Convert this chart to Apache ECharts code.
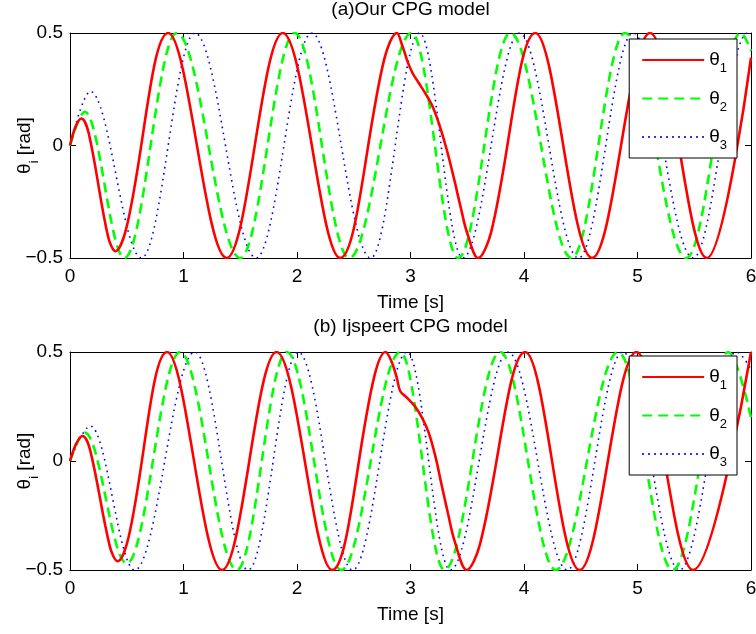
<!DOCTYPE html>
<html><head><meta charset="utf-8">
<script src="https://cdn.jsdelivr.net/npm/echarts@6/dist/echarts.min.js"></script>
<style>html,body{margin:0;padding:0;background:#fff}#c{width:756px;height:634px}</style>
</head><body><div id="c"></div>
<script>
// ---- data (time [s], angle [rad]) ----
const seriesNames = ['θ1', 'θ2', 'θ3'];
const panelTitles = ['(a)Our CPG model', '(b) Ijspeert CPG model'];
const xTickValues = [0, 1, 2, 3, 4, 5, 6];
const yTickValues = [-0.5, 0, 0.5];

// (a) Our CPG model
const ourTheta1 = [[0,0],[0.05,0.085],[0.10,0.12],[0.166,0.052],[0.334,-0.402],[0.40,-0.47],[0.50,-0.36],[0.865,0.5],[1.38,-0.5],[1.875,0.5],[2.38,-0.5],[2.77,0.386],[2.88,0.5],[2.93,0.44],[2.98,0.365],[3.02,0.32],[3.07,0.28],[3.14,0.224],[3.20,0.167],[3.26,0.083],[3.32,-0.02],[3.38,-0.14],[3.44,-0.27],[3.50,-0.39],[3.595,-0.5],[3.71,-0.386],[4.10,0.5],[4.60,-0.5],[5.11,0.5],[5.61,-0.5],[6.0,0.39]];
const ourTheta2 = [[0,0],[0.13,0.15],[0.48,-0.5],[0.94,0.5],[1.50,-0.5],[1.98,0.5],[2.46,-0.5],[3.01,0.5],[3.42,-0.5],[3.88,0.5],[4.42,-0.5],[4.89,0.5],[5.43,-0.5],[5.91,0.5],[6.0,0.42]];
const ourTheta3 = [[0,0],[0.18,0.24],[0.63,-0.5],[1.10,0.5],[1.64,-0.5],[2.13,0.5],[2.65,-0.5],[3.08,0.5],[3.46,-0.5],[3.96,0.5],[4.48,-0.5],[4.96,0.5],[5.49,-0.5],[5.97,0.5],[6.0,0.49]];

// (b) Ijspeert CPG model
const ijTheta1 = [[0,0],[0.055,0.08],[0.11,0.115],[0.178,0.049],[0.352,-0.394],[0.42,-0.46],[0.516,-0.35],[0.855,0.5],[1.34,-0.5],[1.82,0.5],[2.31,-0.5],[2.68,0.386],[2.78,0.5],[2.83,0.46],[2.88,0.38],[2.91,0.32],[2.97,0.29],[3.04,0.25],[3.10,0.20],[3.16,0.13],[3.22,0.02],[3.27,-0.10],[3.33,-0.24],[3.39,-0.37],[3.495,-0.5],[3.61,-0.386],[4.01,0.5],[4.49,-0.5],[4.99,0.5],[5.49,-0.5],[6.0,0.5]];
const ijTheta2 = [[0,0],[0.13,0.13],[0.50,-0.47],[0.97,0.5],[1.47,-0.5],[1.91,0.5],[2.39,-0.5],[2.91,0.5],[3.30,-0.5],[3.79,0.5],[4.28,-0.5],[4.83,0.5],[5.31,-0.5],[5.80,0.5],[6.0,0.2]];
const ijTheta3 = [[0,0],[0.18,0.16],[0.57,-0.5],[1.10,0.5],[1.57,-0.5],[2.01,0.5],[2.49,-0.5],[2.97,0.5],[3.35,-0.5],[3.86,0.5],[4.38,-0.5],[4.87,0.5],[5.37,-0.5],[5.87,0.5],[6.0,0.42]];

const panelData = [[ourTheta1, ourTheta2, ourTheta3], [ijTheta1, ijTheta2, ijTheta3]];

// ---- styling ----
const FONT = '"Liberation Sans", Arial, Helvetica, sans-serif';
const FS = 19;
const lineStyles = [
  {color: '#ff0000', width: 2.6, type: 'solid'},
  {color: '#00ff00', width: 2.6, type: [10, 6]},
  {color: '#0000ff', width: 1.6, type: [1.6, 4.4]}
];
// θ1 contains a perturbation shoulder -> free smoothing; θ2/θ3 are peak-to-peak -> x-monotone smoothing
const smoothMode = [null, 'x', 'x'];
const grids = [
  {left: 70, top: 33, width: 681, height: 225, outerBoundsMode: 'none', containLabel: false},
  {left: 70, top: 352, width: 681, height: 218, outerBoundsMode: 'none', containLabel: false}
];
const legendTops = [39, 356];
const titleY = [10, 327];

const chart = echarts.init(document.getElementById('c'), null, {renderer: 'canvas'});
const xAxis = [], yAxis = [], series = [], legend = [], graphic = [];
const axisLineStyle = {show: true, onZero: false, lineStyle: {color: '#000', width: 1}};
const tickStyle = {show: true, inside: true, length: 6, lineStyle: {color: '#000', width: 1}};
const minusFmt = v => (v < 0 ? '\u2212' + Math.abs(v) : String(v));

grids.forEach((g, i) => {
  xAxis.push({gridIndex: i, type: 'value', min: xTickValues[0], max: xTickValues[xTickValues.length-1], interval: 1,
    position: 'bottom', axisLine: axisLineStyle, axisTick: tickStyle, splitLine: {show: false},
    axisLabel: {show: true, margin: 9, color: '#000', fontFamily: FONT, fontSize: FS},
    name: 'Time [s]', nameLocation: 'middle', nameGap: 35, nameMoveOverlap: false,
    nameTextStyle: {color: '#000', fontFamily: FONT, fontSize: FS}});
  xAxis.push({gridIndex: i, type: 'value', min: 0, max: 6, interval: 1, position: 'top',
    axisLine: axisLineStyle, axisTick: tickStyle, splitLine: {show: false}, axisLabel: {show: false}});
  yAxis.push({gridIndex: i, type: 'value', min: yTickValues[0], max: yTickValues[yTickValues.length-1], interval: 0.5,
    position: 'left', axisLine: axisLineStyle, axisTick: tickStyle, splitLine: {show: false},
    axisLabel: {show: true, margin: 7, color: '#000', fontFamily: FONT, fontSize: FS, formatter: minusFmt},
    name: '{t|θ}{s|i}{t| [rad]}', nameLocation: 'middle', nameRotate: 90, nameGap: 29, nameMoveOverlap: false,
    nameTextStyle: {color: '#000', fontFamily: FONT, fontSize: FS,
      rich: {t: {fontFamily: FONT, fontSize: FS, color: '#000', lineHeight: 32},
             s: {fontFamily: FONT, fontSize: 13, color: '#000', lineHeight: 12, verticalAlign: 'bottom'}}}});
  yAxis.push({gridIndex: i, type: 'value', min: -0.5, max: 0.5, interval: 0.5, position: 'right',
    axisLine: axisLineStyle, axisTick: tickStyle, splitLine: {show: false}, axisLabel: {show: false}});

  panelData[i].forEach((d, k) => {
    const s = {name: seriesNames[k], type: 'line', xAxisIndex: 2*i, yAxisIndex: 2*i,
      data: d, smooth: 0.36, symbol: 'none', showSymbol: false, clip: true,
      lineStyle: lineStyles[k], itemStyle: {color: lineStyles[k].color},
      emphasis: {disabled: true}, animation: false, z: 3 - k};
    if (smoothMode[k]) s.smoothMonotone = smoothMode[k];
    series.push(s);
  });

  legend.push({orient: 'vertical', right: 19, top: legendTops[i], data: seriesNames,
    backgroundColor: '#fff', borderColor: '#000', borderWidth: 1, borderRadius: 0,
    padding: [9, 10, 6, 12], itemWidth: 62, itemHeight: 30, itemGap: 11.5, selectedMode: false,
    itemStyle: {opacity: 0, color: 'transparent', borderWidth: 0},
    formatter: n => '{t|θ}{s|' + n.slice(1) + '}',
    textStyle: {fontFamily: FONT, fontSize: FS, color: '#000',
      rich: {t: {fontFamily: FONT, fontSize: FS, color: '#000', lineHeight: 30},
             s: {fontFamily: FONT, fontSize: 13, color: '#000', lineHeight: 12, verticalAlign: 'bottom'}}}});

  graphic.push({type: 'text', x: g.left + g.width / 2, y: titleY[i],
    style: {text: panelTitles[i], fill: '#000', font: FS + 'px ' + FONT, align: 'center', verticalAlign: 'middle'}});
});

chart.setOption({animation: false, backgroundColor: '#fff', grid: grids, xAxis, yAxis, series, legend, graphic});
</script></body></html>
